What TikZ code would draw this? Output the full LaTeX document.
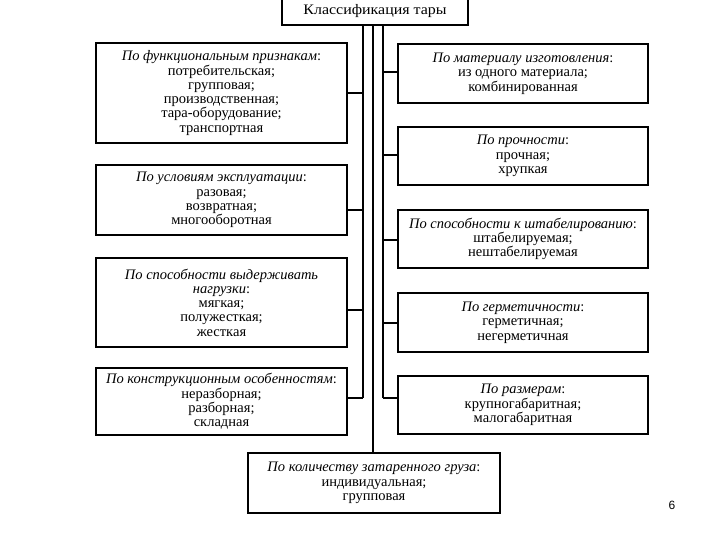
\documentclass[tikz,border=0pt]{standalone}
\usepackage{fontspec}
\setmainfont{Liberation Serif}
\newfontfamily\pagefont{Liberation Sans}
\newcommand{\boxfont}{\fontsize{14.5}{14.3}\selectfont\lineskiplimit=-6pt\relax}
\newcommand{\titlefont}{\fontsize{14.5}{15}\selectfont\addfontfeature{FakeStretch=1.1}}
\tikzset{
  box/.style={draw, line width=1.3pt, align=center, inner sep=0pt, font=\boxfont},
  lbox/.style={box, minimum width=251pt},
  rbox/.style={box, minimum width=250pt},
  bus/.style={line width=1.2pt},
}
\newcommand{\hd}[1]{{\itshape#1}}
\begin{document}
\begin{tikzpicture}[x=1pt,y=-1pt]
\useasboundingbox[fill=white] (0,0) rectangle (720,540);
% top
\node[box, minimum width=186pt, minimum height=28pt, font=\titlefont] (T) at (375,11)
  {Классификация тары};
% left column
\node[lbox, minimum height=100pt] (L1) at (221.5,93)
  {\hd{По функциональным признакам}:\\потребительская;\\групповая;\\производственная;\\тара-оборудование;\\транспортная};
\node[lbox, minimum height=70pt] (L2) at (221.5,200)
  {\hd{По условиям эксплуатации}:\\разовая;\\возвратная;\\многооборотная};
\node[lbox, minimum height=89pt] (L3) at (221.5,302.5)
  {\hd{По способности выдерживать}\\\hd{нагрузки}:\\мягкая;\\полужесткая;\\жесткая};
\node[lbox, minimum height=67pt] (L4) at (221.5,401.5)
  {\hd{По конструкционным особенностям}:\\неразборная;\\разборная;\\складная};
% right column
\node[rbox, minimum height=59pt] (R1) at (523,73.5)
  {\hd{По материалу изготовления}:\\из одного материала;\\комбинированная};
\node[rbox, minimum height=58pt] (R2) at (523,156)
  {\hd{По прочности}:\\прочная;\\хрупкая};
\node[rbox, minimum height=58pt] (R3) at (523,239)
  {\hd{По способности к штабелированию}:\\штабелируемая;\\нештабелируемая};
\node[rbox, minimum height=59pt] (R4) at (523,322.5)
  {\hd{По герметичности}:\\герметичная;\\негерметичная};
\node[rbox, minimum height=58pt] (R5) at (523,405)
  {\hd{По размерам}:\\крупногабаритная;\\малогабаритная};
% bottom
\node[box, minimum width=252pt, minimum height=60pt] (B) at (374,483)
  {\hd{По количеству затаренного груза}:\\индивидуальная;\\групповая};
% buses
\coordinate (LA) at (363,25);
\coordinate (MA) at (373,25);
\coordinate (RA) at (383,25);
\coordinate (LB) at (363,398);
\coordinate (RB) at (383,398);
\draw[bus] (T.south -| LA) -- (LB);
\draw[bus] (T.south -| MA) -- (B.north -| MA);
\draw[bus] (T.south -| RA) -- (RB);
% left connectors
\draw[bus] (L1.east |- 0,93) -- (LA |- 0,93);
\draw[bus] (L2.east |- 0,210) -- (LA |- 0,210);
\draw[bus] (L3.east |- 0,310) -- (LA |- 0,310);
\draw[bus] (L4.east |- LB) -- (LB);
% right connectors
\draw[bus] (RA |- 0,72) -- (R1.west |- 0,72);
\draw[bus] (RA |- 0,155) -- (R2.west |- 0,155);
\draw[bus] (RA |- 0,240) -- (R3.west |- 0,240);
\draw[bus] (RA |- 0,323) -- (R4.west |- 0,323);
\draw[bus] (RB) -- (R5.west |- RB);
% page number
\node[font=\pagefont\fontsize{12}{14}\selectfont, inner sep=0pt] (pg) at (672,505) {6};
\end{tikzpicture}
\end{document}
